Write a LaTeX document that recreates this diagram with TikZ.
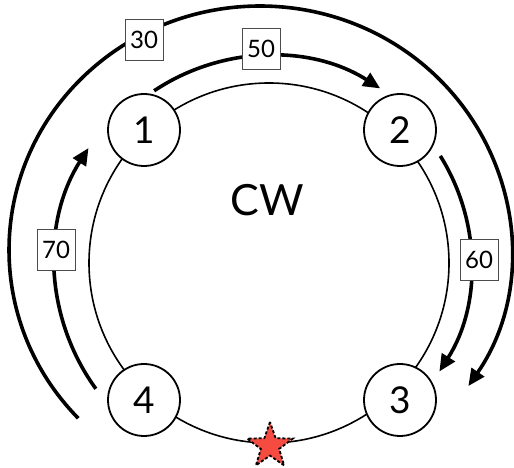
\documentclass[tikz,border=0pt]{standalone}
\usepackage{fontspec}
\setmainfont{Lato}
\usetikzlibrary{arrows.meta,shapes.geometric}
\definecolor{starred}{RGB}{245,75,65}
\begin{document}
\begin{tikzpicture}[x=1pt,y=1pt,
  nodecirc/.style={circle,draw,line width=1.8pt,fill=white,minimum size=72pt,inner sep=0pt,font=\fontsize{37}{37}\selectfont},
  numbox/.style={draw=black!70,line width=0.8pt,fill=white,minimum width=38pt,minimum height=41pt,inner sep=0pt,font=\fontsize{24}{24}\selectfont},
  flow/.style={line width=3.6pt,-{Triangle[length=17pt,width=15pt]}},
  ring/.style={line width=1.6pt},
  ]
\useasboundingbox (0,0) rectangle (514,468);
\coordinate (c) at (269,205);
\draw[ring] (c) circle[radius=180];
\node[nodecirc] (n1) at (144,338) {1};
\node[nodecirc] (n2) at (400,338) {2};
\node[nodecirc] (n3) at (400,68) {3};
\node[nodecirc] (n4) at (144,68) {4};
\node[star,star points=5,star point ratio=2.5,minimum size=48pt,inner sep=0pt,
      fill=starred,draw,line width=1.8pt,dash pattern=on 3pt off 2pt] (st) at (270,22) {};
\node[font=\fontsize{43}{43}\selectfont] (cw) at (267,268) {CW};
% arcs
\coordinate (s50) at ([shift={(123.7:207)}]c);
\coordinate (s60) at ([shift={(32:202)}]c);
\coordinate (s70) at ([shift={(216:214)}]c);
\coordinate (s30) at ([shift={(223.6:251 and 244)}]260,218);
\draw[flow] (s50) arc[start angle=123.7,end angle=57.5,radius=207];
\draw[flow] (s60) arc[start angle=32,end angle=-32.5,radius=202];
\draw[flow] (s70) arc[start angle=216,end angle=147.5,radius=214];
\draw[flow] (s30) arc[start angle=223.6,end angle=-33.9,x radius=251,y radius=244];
% labels
\node[numbox] (l30) at (144,428) {30};
\node[numbox] (l50) at (261,419) {50};
\node[numbox] (l70) at (56,218) {70};
\node[numbox] (l60) at (479,208) {60};
\end{tikzpicture}
\end{document}
